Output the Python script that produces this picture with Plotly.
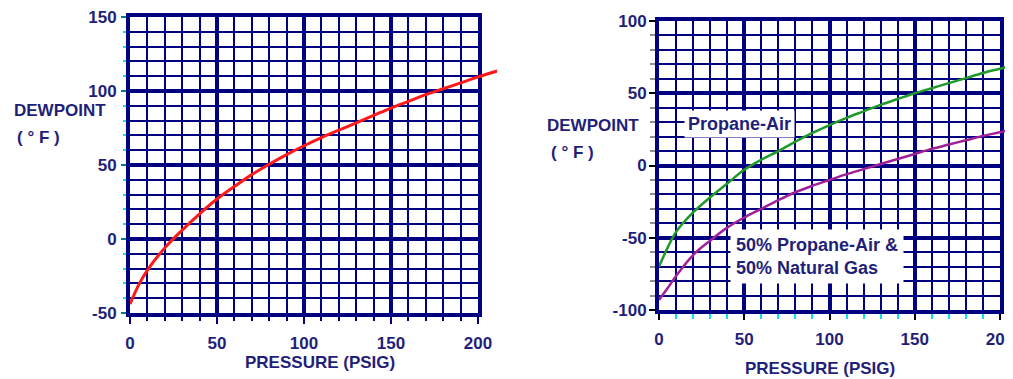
import plotly.graph_objects as go

# ---------------- data ----------------
pressure_left = [0, 5, 10, 20, 30, 40, 50, 60, 70, 80, 90, 100, 110, 120, 130, 140, 150,
                 160, 170, 180, 190, 200, 211]
dewpoint_propane = [-44, -31, -21, -6, 6, 17, 27, 35.5, 43.5, 50.5, 57, 63, 68.5, 73.5, 78.5,
                    83.5, 88.5, 93, 97.5, 101.5, 105.5, 109.5, 113.5]

pressure_right = [0, 5, 10, 20, 30, 40, 50, 60, 70, 80, 90, 100, 110, 120, 130, 140, 150,
                  160, 170, 180, 190, 200, 208]
dewpoint_propane_air = [-70, -57, -46, -32.5, -22, -12.5, -3, 4, 10, 16.5, 22.5, 28, 33, 37.5,
                        42, 46, 50, 53.5, 57, 60.5, 64, 67, 69.5]
dewpoint_mix = [-93, -85, -76.5, -62, -52, -43, -36, -30, -24, -18.5, -14, -10, -6, -2.5,
                1, 4.5, 8, 11.5, 14.5, 17.5, 20.5, 23, 25.5]

x_ticks = [0, 50, 100, 150, 200]
x_ticktext = ["0", "50", "100", "150", "200"]
y_ticks_left = [-50, 0, 50, 100, 150]
y_ticktext_left = ["-50", "0", "50", "100", "150"]
y_ticks_right = [-100, -50, 0, 50, 100]
y_ticktext_right = ["-100", "-50", "0", "50", "100"]

label_propane_air = "Propane-Air"
label_mix = "50% Propane-Air &<br>50% Natural Gas"
y_title = "DEWPOINT"
y_unit = "( ° F )"
x_title = "PRESSURE (PSIG)"

# ---------------- layout helpers ----------------
W, H = 1013, 379
OFF = 8          # the page body margin shifts the figure by this much
NAVY = "#000080"
TXT = "#1f1f7a"
FONT = "Arial"


def fx(p):
    return (p - OFF) / W


def fy(p):
    return 1 - (p - OFF) / H


# plot boxes in page pixels
L_X0, L_X1, L_Y0, L_Y1 = 130, 478, 17, 313
R_X0, R_X1, R_Y0, R_Y1 = 659, 1000, 21, 310
L_EXT = 497   # left curve runs past the frame up to here
R_EXT = 1013

fig = go.Figure()

series = [
    (pressure_left, dewpoint_propane, "#ff1a1a", 3, "x", "y", "x3", "y3"),
    (pressure_right, dewpoint_propane_air, "#1f9a2a", 2.5, "x2", "y2", "x4", "y4"),
    (pressure_right, dewpoint_mix, "#a0209a", 2.5, "x2", "y2", "x4", "y4"),
]
# curves inside the frames
for xs, ys, col, w, xa, ya, _, _ in series:
    fig.add_trace(go.Scatter(x=xs, y=ys, xaxis=xa, yaxis=ya, mode="lines",
                             line=dict(color=col, width=w, shape="spline"),
                             showlegend=False, hoverinfo="skip"))
# same curves in the thin strip right of each frame (overhang past 200)
for xs, ys, col, w, _, _, xa, ya in series:
    fig.add_trace(go.Scatter(x=xs, y=ys, xaxis=xa, yaxis=ya, mode="lines",
                             line=dict(color=col, width=w, shape="spline"),
                             showlegend=False, hoverinfo="skip"))

tickfont = dict(family=FONT, size=17, color=TXT)


def grid_axis(domain, rng, tickvals, ticktext, anchor, major_tc, minor_tc, major_len,
              minor_len, standoff):
    return dict(
        domain=domain, range=rng, anchor=anchor, tickmode="array",
        tickvals=tickvals, ticktext=["<b>%s</b>" % t for t in ticktext],
        showgrid=True, gridcolor=NAVY, gridwidth=4, zeroline=False,
        showline=True, linecolor=NAVY, linewidth=4, mirror=True,
        ticks="outside", ticklen=major_len, tickwidth=2, tickcolor=major_tc,
        tickfont=tickfont, ticklabelstandoff=standoff, ticklabeloverflow="allow",
        minor=dict(dtick=10, tick0=0, showgrid=True, gridcolor=NAVY, gridwidth=2,
                   ticks="outside", ticklen=minor_len, tickwidth=2, tickcolor=minor_tc),
        fixedrange=True, automargin=False,
    )


left_xrange = [0, 200]
left_yrange = [-50, 150]
right_xrange = [0, 200]
right_yrange = [-100, 100]

fig.update_layout(
    width=W, height=H, autosize=False,
    margin=dict(l=0, r=0, t=0, b=0, pad=0, autoexpand=False),
    paper_bgcolor="white", plot_bgcolor="rgba(0,0,0,0)",
    showlegend=False,
    xaxis=grid_axis([fx(L_X0), fx(L_X1)], left_xrange, x_ticks, x_ticktext, "y",
                    NAVY, NAVY, 7, 4, 5),
    yaxis=grid_axis([fy(L_Y1), fy(L_Y0)], left_yrange, y_ticks_left, y_ticktext_left, "x",
                    "#008080", "#00e5ee", 5, 3, 1),
    xaxis2=grid_axis([fx(R_X0), fx(R_X1)], right_xrange, x_ticks, x_ticktext, "y2",
                     "black", "#00e5ee", 6, 5, 5),
    yaxis2=grid_axis([fy(R_Y1), fy(R_Y0)], right_yrange, y_ticks_right, y_ticktext_right, "x2",
                     "black", "#909090", 6, 5, -1),
    xaxis3=dict(domain=[fx(L_X1), fx(L_EXT)], anchor="y3", visible=False, fixedrange=True,
                range=[200, 200 * (L_EXT - L_X0) / (L_X1 - L_X0)]),
    yaxis3=dict(domain=[fy(L_Y1), fy(L_Y0)], anchor="x3", visible=False, fixedrange=True,
                range=left_yrange),
    xaxis4=dict(domain=[fx(R_X1), fx(R_EXT)], anchor="y4", visible=False, fixedrange=True,
                range=[200, 200 * (R_EXT - R_X0) / (R_X1 - R_X0)]),
    yaxis4=dict(domain=[fy(R_Y1), fy(R_Y0)], anchor="x4", visible=False, fixedrange=True,
                range=right_yrange),
)

tfont = dict(family=FONT, size=17, color=TXT)
afont = dict(family=FONT, size=18, color=TXT)


def paper_text(text, xpx, ypx, xanchor="left"):
    fig.add_annotation(text="<b>%s</b>" % text, x=fx(xpx), y=fy(ypx), xref="paper",
                       yref="paper", xanchor=xanchor, yanchor="middle", showarrow=False,
                       font=tfont)


paper_text(y_title, 12, 110)
paper_text(y_unit, 15, 138)
paper_text(x_title, 243, 362)
paper_text(y_title, 545, 126)
paper_text(y_unit, 549, 152)
paper_text(x_title, 743, 368)

fig.add_annotation(text="<b>%s</b>" % label_propane_air, x=47, y=28.4, xref="x2", yref="y2",
                   showarrow=False, font=afont, bgcolor="white", borderpad=3,
                   xanchor="center", yanchor="middle")
fig.add_annotation(text="<b>%s</b>" % label_mix, x=92.4, y=-63, xref="x2", yref="y2",
                   showarrow=False, font=afont, bgcolor="white", borderpad=5, align="left",
                   xanchor="center", yanchor="middle")

fig.write_html("out.html")
